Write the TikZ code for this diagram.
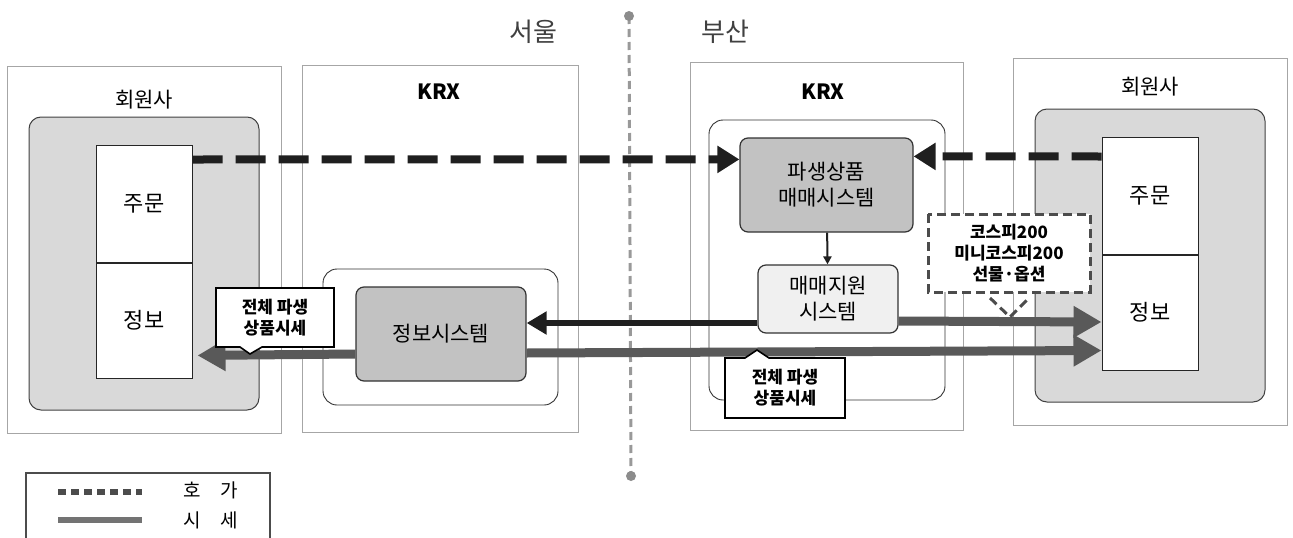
\documentclass[tikz,border=0pt]{standalone}
\usepackage{fontspec}
\setmainfont{Noto Sans CJK KR}
\usetikzlibrary{arrows.meta,calc}

\tikzset{
  area/.style={draw=black!35, line width=0.8pt, inner sep=0pt},
  member/.style={draw=black!75, fill=black!15, rounded corners=12pt, line width=1pt, inner sep=0pt},
  unit/.style={draw=black!85, fill=white, line width=1pt, inner sep=0pt, font=\fontsize{22}{26}\selectfont},
  frame/.style={draw=black!80, fill=white, rounded corners=14pt, line width=0.9pt, inner sep=0pt},
  sysbox/.style={draw=black!80, fill=black!24, rounded corners=8pt, line width=1.2pt, inner sep=0pt, align=center, font=\fontsize{21}{26}\selectfont},
  title/.style={font=\fontsize{21}{24}\selectfont},
  city/.style={font=\fontsize{26}{30}\selectfont, text=black!75},
  krx/.style={font=\fontsize{21}{24}\selectfont\bfseries},
  order/.style={line width=8pt, draw=black!88, dash pattern=on 30pt off 13pt, -{Triangle[length=22pt,width=26pt]}},
  feed/.style={line width=6pt, draw=black!88, -{Triangle[length=20pt,width=22pt]}},
  link/.style={line width=2pt, draw=black!88, -{Triangle[length=8pt,width=8pt]}},
  quote/.style={line width=9pt, draw=black!65, -{Triangle[length=28pt,width=30pt]}},
  bubble/.style={draw=black, fill=white, line width=1.6pt},
  tiptext/.style={align=center, font=\fontsize{17}{21}\selectfont\bfseries},
  legendtext/.style={font=\fontsize{19}{22}\selectfont}
}

\begin{document}
\begin{tikzpicture}[x=1pt,y=-1pt]
  \useasboundingbox (0,0) rectangle (1293,538);

  % Seoul / Busan divider
  \draw[black!40, line width=3pt, dash pattern=on 8pt off 5pt] (629,16) -- (631,476);
  \fill[black!45] (629,16) circle (5pt) (631,476) circle (5pt);
  \node[city] (seoulName) at (533,32) {서울};
  \node[city] (busanName) at (725,32) {부산};

  % member firms, left and right
  \foreach \s/\x/\dy/\ty in {L/144/0/100,R/1150/-8/87}{
    \node[area, minimum width=274pt, minimum height=367pt] (mem\s) at (\x,249.5+\dy) {};
    \node[title] (title\s) at (\x,\ty) {회원사};
    \node[member, minimum width=230pt, minimum height=293pt] (box\s) at (\x,263.5+\dy) {};
    \node[unit, minimum width=96pt, minimum height=117pt] (ord\s) at (\x,203.5+\dy) {주문};
    \node[unit, minimum width=96pt, minimum height=115pt, anchor=north] (inf\s) at (ord\s.south) {정보};
  }

  % KRX Seoul
  \node[area, minimum width=276pt, minimum height=367pt] (seoul) at (440,248.5) {};
  \node[krx] (krxSeoul) at (439,92) {KRX};
  \node[frame, minimum width=235pt, minimum height=136pt] (infoFrame) at (440.5,337) {};
  \node[sysbox, minimum width=170pt, minimum height=94pt] (infoSys) at (441,334) {정보시스템};

  % KRX Busan
  \node[area, minimum width=273pt, minimum height=368pt] (busan) at (826.5,246) {};
  \node[krx] (krxBusan) at (823,92) {KRX};
  \node[frame, minimum width=236pt, minimum height=280pt] (tradeFrame) at (827,260) {};
  \node[sysbox, minimum width=173pt, minimum height=94pt] (trade) at (826.5,185) {파생상품\\매매시스템};
  \node[sysbox, fill=black!6, minimum width=140pt, minimum height=68pt] (support) at (828,299) {매매지원\\시스템};

  % orders
  \draw[order] ($(ordL.north east)+(0,15)$) -- ($(trade.north west)+(0,22)$);
  \draw[order] ($(ordR.north west)+(0,20)$) -- ($(trade.north east)+(0,19)$);
  \draw[link] (trade) -- (support);

  % quotes
  \draw[feed] ($(support.west)+(0,24)$) -- ($(infoSys.east)+(0,-11)$);
  \draw[quote] ($(support.east)+(0,22)$) -- ($(infR.west)+(0,9.5)$);
  \draw[quote] ($(infoSys.east)+(0,19)$) -- ($(infR.west)+(0,38)$);
  \draw[quote, shorten >=5pt] ($(infoSys.west)+(0,20)$) -- ($(infL.east)+(0,35)$);

  % callouts
  \draw[bubble] (216,288) -- (334,288) -- (334,347) -- (262,347) -- (250,354) -- (240,347) -- (216,347) -- cycle;
  \node[tiptext] (allLeft) at (275,317.5) {전체 파생\\상품시세};
  \draw[bubble] (725,358) -- (745,358) -- (757,350) -- (769,358) -- (845,358) -- (845,418) -- (725,418) -- cycle;
  \node[tiptext] (allBusan) at (785,388) {전체 파생\\상품시세};
  \draw[draw=black!70, fill=white, line width=3pt, dash pattern=on 9pt off 5pt] (928,214) rectangle (1090,292);
  \draw[black!70, line width=3pt, dash pattern=on 9pt off 5pt] (990,298) -- (1010,317) -- (1029,298);
  \node[tiptext, font=\fontsize{17}{21}\selectfont\bfseries] (kospi) at (1009,253) {코스피200\\미니코스피200\\선물·옵션};

  % legend
  \draw[black!70, line width=2pt] (26,473) rectangle (270,560);
  \draw[black!70, line width=6pt, dash pattern=on 8pt off 5pt] (58,492) -- (142,492);
  \draw[black!55, line width=6pt] (58,520) -- (142,520);
  \node[legendtext] (bidText) at (211,490) {호\hspace{20pt}가};
  \node[legendtext] (tickText) at (211,520) {시\hspace{20pt}세};
\end{tikzpicture}
\end{document}
